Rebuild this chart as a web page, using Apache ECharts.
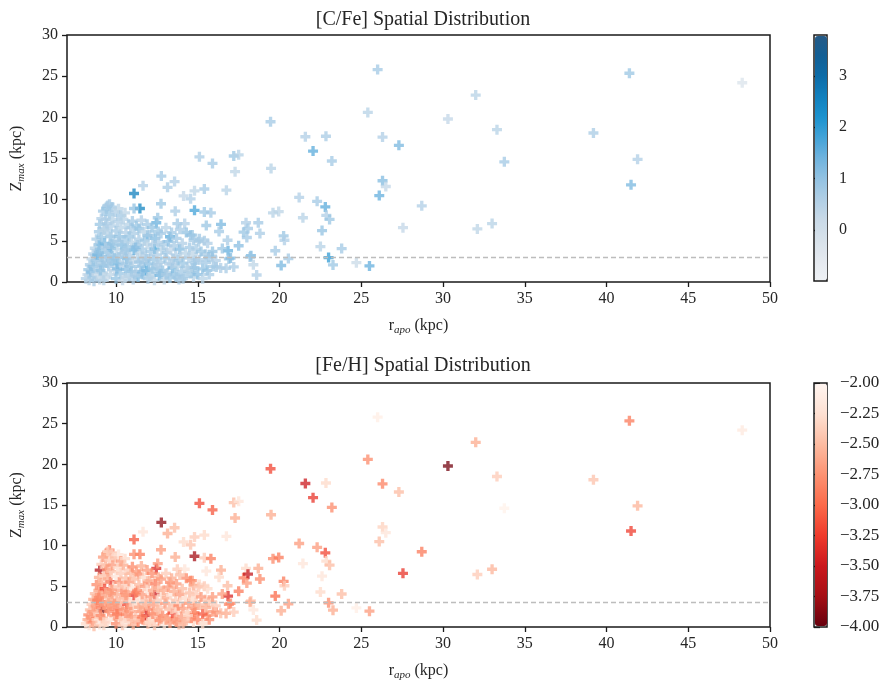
<!DOCTYPE html>
<html><head><meta charset="utf-8">
<script src="https://cdn.jsdelivr.net/npm/echarts@6/dist/echarts.min.js"></script>
<style>html,body{margin:0;padding:0;background:#fff}#c{width:889px;height:685px}</style>
</head><body><div id="c"></div><script>
// apocentric radius r_apo (kpc)
const rApo = [
26.0,25.4,26.3,27.3,26.3,26.5,26.1,28.7,27.55,30.3,
32.0,33.3,33.75,32.1,33.0,39.2,41.4,41.9,41.5,48.3,
24.7,25.5,19.45,21.58,22.84,22.05,23.2,19.48,15.1,15.9,
17.2,17.5,17.28,12.77,11.65,13.15,13.58,11.1,15.4,16.75,
14.8,14.13,14.56,21.2,21.43,22.3,22.8,22.86,23.06,22.6,
22.5,23.8,23.0,23.27,11.46,11.1,12.75,14.8,15.4,15.8,
13.62,11.4,12.46,12.58,11.93,13.3,13.75,14.2,13.9,14.66,
15.1,15.4,15.52,16.42,16.3,16.82,17.95,17.8,18.07,18.7,
18.8,17.5,18.25,18.4,18.6,20.25,20.3,19.74,20.54,20.1,
16.85,16.9,16.73,16.13,15.58,14.68,14.85,15.46,12.36,9.7,
8.96,9.3,9.36,9.46,9.6,9.0,9.16,9.65,19.6,19.95,
18.0,16.5,15.66,15.87,14.8,15.3,15.95,16.4,14.74,17.2,
17.0,18.2,14.55,14.74,15.05,15.6,
8.15,8.25,8.3,8.35,8.4,8.45,8.5,8.55,8.6,8.6,
8.7,8.75,8.8,8.8,8.85,8.9,8.95,9.0,9.0,9.05,
9.1,9.1,9.15,9.2,9.2,9.25,9.3,9.3,9.35,9.4,
9.45,9.45,9.5,9.5,9.55,9.6,9.6,9.65,9.7,9.7,
9.75,9.8,9.8,9.85,9.9,9.95,10.0,10.0,10.05,10.1,
10.1,10.15,10.2,10.2,10.25,10.3,10.3,10.35,10.4,10.4,
10.45,10.5,10.5,10.55,10.6,10.6,10.65,10.7,10.75,10.8,
10.8,10.85,10.9,10.9,10.95,11.0,11.0,11.05,11.1,11.1,
11.2,11.25,11.3,11.3,11.35,11.4,11.45,11.5,11.55,11.6,
11.65,11.7,11.7,11.75,11.8,11.85,11.9,11.9,11.95,12.0,
12.05,12.1,12.15,12.2,12.25,12.3,12.35,12.4,12.45,12.5,
12.55,12.6,12.65,12.7,12.75,12.8,12.85,12.9,12.95,13.0,
13.05,13.1,13.15,13.2,13.25,13.3,13.35,13.4,13.45,13.5,
13.55,13.6,13.65,13.7,13.75,13.8,13.85,13.9,13.95,14.0,
14.05,14.1,14.2,14.25,14.3,14.35,14.45,14.5,14.6,14.7,
14.8,14.9,15.0,15.1,15.2,15.3,15.5,15.7,15.9,16.1,
8.65,9.05,9.25,9.45,9.55,9.9,10.05,10.35,10.55,10.7,
10.95,11.15,11.4,11.6,11.85,12.05,12.25,12.55,12.75,13.05,
13.4,13.7,14.1,14.4,8.95,9.35,9.75,10.15,10.6,11.2
];
// maximum height above the plane Z_max (kpc)
const zMax = [
25.8,20.6,17.6,16.6,12.3,11.6,10.5,9.25,6.6,19.8,
22.7,18.5,14.6,6.45,7.1,18.1,25.35,14.9,11.8,24.2,
2.35,1.95,19.46,17.64,17.7,15.9,14.7,13.8,15.2,14.4,
15.3,15.45,13.4,12.86,11.7,11.5,12.2,10.75,11.3,11.15,
11.07,10.46,10.1,10.27,7.8,9.8,9.12,8.1,7.6,6.25,
4.3,4.06,2.97,2.07,8.93,8.93,9.5,8.7,8.5,8.4,
8.6,6.5,7.2,6.13,5.64,5.5,7.1,7.1,6.4,5.7,
5.24,5.0,6.86,7.0,6.13,5.07,7.2,6.05,6.5,7.2,
5.9,4.4,3.2,2.1,0.85,5.6,5.07,3.8,2.85,2.0,
3.8,2.8,1.67,1.82,1.42,1.67,2.64,3.37,4.0,4.1,
4.5,6.45,7.6,9.2,9.45,7.0,2.0,5.56,8.4,8.55,
5.4,4.06,3.04,3.13,1.75,1.6,1.9,1.7,0.6,1.83,
2.9,3.04,5.7,5.07,4.9,4.7,
0.4,0.9,1.5,0.2,2.1,1.2,2.8,0.6,3.4,1.9,
4.1,2.6,0.9,5.2,3.3,1.6,6.1,4.0,0.3,2.4,
5.4,7.7,3.1,8.6,1.1,6.3,4.7,2.7,0.6,8.9,
7.1,3.6,9.3,5.9,1.9,8.2,4.3,0.9,6.8,2.6,
9.1,7.6,3.2,5.0,1.4,8.5,6.2,0.4,4.0,2.2,
7.3,8.9,5.5,3.0,1.0,6.6,8.1,4.5,2.0,0.2,
7.6,5.1,3.6,8.4,1.5,6.0,2.8,4.3,7.0,0.7,
5.5,3.2,6.6,1.9,4.8,7.4,2.5,0.3,3.9,5.9,
1.2,6.8,4.5,2.9,0.6,5.2,3.5,1.9,7.5,4.0,
0.9,6.1,2.5,5.0,3.2,1.4,7.0,4.6,0.4,2.2,
5.7,3.7,1.0,6.6,4.5,2.7,0.2,5.3,1.7,3.3,
7.8,4.8,0.8,2.4,5.9,3.9,1.4,4.5,0.3,2.9,
6.6,3.6,1.1,4.9,2.2,0.5,3.9,6.0,1.7,2.8,
4.4,0.9,3.3,5.3,1.9,2.6,0.3,4.0,3.0,1.3,
4.7,2.3,0.7,3.5,6.0,1.8,2.9,4.2,1.1,3.4,
2.3,4.0,0.9,2.7,3.7,0.4,2.4,0.9,3.7,2.6,
0.1,1.4,0.2,2.3,3.0,2.9,1.6,3.4,0.5,2.3,
1.3,0.8,2.4,1.3,2.8,0.6,1.6,2.1,1.0,0.9,
2.2,0.6,0.4,1.4,3.6,4.2,4.6,4.9,3.9,4.2
];
// [C/Fe]
const cFe = [
0.8,0.5,0.6,1.3,1.2,0.3,1.5,0.6,0.3,0.3,
0.5,0.5,0.8,0.4,0.5,0.7,0.9,0.6,1.3,-0.3,
0.2,1.5,0.8,0.6,0.7,1.6,0.8,0.5,0.7,0.8,
0.9,0.5,0.4,0.8,0.6,0.7,0.6,2.6,0.8,0.5,
0.4,0.3,0.6,0.6,0.5,0.8,1.6,0.6,0.9,1.0,
0.5,0.8,2.0,0.9,2.5,1.0,0.9,1.8,0.9,0.8,
0.7,1.0,1.5,0.9,1.5,1.6,0.8,0.6,0.7,0.9,
0.8,0.7,0.9,1.3,0.8,0.7,0.6,0.9,0.8,0.8,
0.7,1.1,1.3,0.4,0.6,0.9,0.6,0.8,0.8,1.3,
1.5,0.9,0.7,0.8,1.0,0.9,0.8,0.7,1.8,1.6,
1.5,0.8,0.7,0.9,0.8,0.9,1.2,1.0,0.5,0.4,
0.8,0.9,0.8,0.7,0.9,1.0,0.8,0.6,0.5,0.7,
1.2,0.9,0.9,0.8,0.7,0.6,
0.6,0.3,0.9,0.5,0.7,1.1,0.4,0.8,0.6,1.0,
0.5,0.9,0.3,0.7,1.4,0.6,0.8,1.0,0.4,0.7,
0.9,0.6,1.2,0.8,0.5,0.4,1.3,0.7,0.3,0.9,
0.7,1.0,0.6,0.5,0.8,0.9,1.1,0.4,0.6,1.2,
0.8,0.5,0.9,0.7,0.3,0.6,0.8,1.0,0.5,1.4,
0.6,0.4,1.0,0.7,0.9,0.5,0.8,1.2,0.6,0.3,
0.5,0.8,0.7,0.4,1.1,0.6,1.3,0.9,0.5,0.7,
0.9,0.6,0.7,1.0,0.5,0.8,0.4,0.6,1.5,0.7,
0.6,0.9,0.8,0.5,1.2,0.7,0.4,0.9,0.6,0.8,
1.0,0.5,0.7,0.9,0.6,1.6,0.8,0.4,0.7,1.1,
0.7,0.8,0.5,1.0,0.6,0.9,0.4,1.2,0.8,0.6,
0.9,0.6,1.4,0.7,0.8,0.5,1.0,0.7,0.4,0.9,
0.5,0.8,0.7,1.1,0.6,0.9,0.3,0.8,1.3,0.6,
0.7,1.0,0.6,0.8,0.5,0.9,0.7,1.2,0.4,0.8,
0.6,0.9,0.8,0.5,1.0,0.7,0.6,0.8,0.9,0.4,
0.8,0.7,1.1,0.6,0.9,0.5,0.8,0.7,1.0,0.6,
0.7,1.0,0.5,0.8,0.6,0.9,1.2,0.7,0.4,0.8,
0.9,0.6,0.8,1.1,0.7,0.5,0.9,0.6,1.0,0.7,
0.6,0.8,0.7,0.5,1.0,0.6,0.9,0.7,0.8,1.1
];
// [Fe/H]
const feH = [
-2.1,-2.8,-2.85,-2.5,-2.35,-2.2,-2.5,-2.9,-3.3,-3.95,
-2.6,-2.4,-2.05,-2.4,-2.55,-2.45,-2.9,-2.55,-3.25,-2.15,
-2.1,-2.7,-3.2,-3.5,-2.3,-3.3,-2.8,-2.6,-3.2,-3.1,
-2.5,-2.2,-2.6,-3.85,-2.2,-2.6,-2.5,-3.1,-2.3,-2.2,
-2.4,-2.3,-2.45,-2.7,-2.2,-2.7,-3.2,-2.3,-2.5,-2.2,
-2.3,-2.5,-2.8,-2.6,-2.9,-2.8,-2.7,-3.75,-2.4,-2.9,
-2.6,-2.8,-3.4,-2.6,-2.9,-2.8,-2.4,-2.2,-2.5,-2.7,
-2.3,-2.4,-2.2,-2.6,-2.3,-2.5,-2.3,-2.9,-3.55,-2.6,
-2.8,-2.9,-2.4,-2.2,-2.3,-2.9,-2.4,-3.0,-2.7,-2.6,
-3.4,-2.8,-2.6,-2.9,-2.7,-2.8,-2.6,-2.4,-3.5,-2.9,
-2.7,-2.8,-2.6,-2.7,-3.0,-3.65,-4.0,-3.3,-2.8,-2.9,
-2.7,-2.7,-2.5,-2.3,-2.9,-3.1,-2.7,-2.5,-2.3,-2.4,
-2.8,-2.6,-2.8,-2.6,-2.4,-2.3,
-2.3,-2.6,-2.8,-2.2,-2.5,-2.7,-2.4,-2.85,-2.6,-2.7,
-2.5,-2.7,-2.3,-2.8,-2.9,-2.4,-2.6,-2.7,-2.2,-2.85,
-2.6,-2.4,-2.8,-2.7,-2.5,-2.3,-3.2,-2.7,-2.4,-2.6,
-2.7,-2.5,-2.3,-2.6,-2.8,-2.4,-2.7,-2.2,-2.5,-2.85,
-2.4,-2.7,-2.6,-2.3,-2.7,-2.5,-2.2,-2.8,-2.6,-2.9,
-2.3,-2.2,-2.8,-2.6,-2.5,-2.4,-2.7,-2.85,-2.7,-2.4,
-2.6,-2.4,-2.7,-2.3,-2.8,-2.5,-3.2,-2.7,-2.4,-2.6,
-2.7,-2.3,-2.5,-2.7,-2.2,-2.8,-2.4,-2.6,-3.3,-2.5,
-2.4,-2.7,-2.8,-2.3,-2.85,-2.5,-2.2,-2.7,-2.6,-2.7,
-2.8,-2.3,-2.6,-2.7,-2.4,-3.4,-2.7,-2.2,-2.5,-2.85,
-2.5,-2.7,-2.3,-2.8,-2.6,-2.7,-2.4,-2.9,-2.5,-2.4,
-2.7,-2.5,-2.85,-2.4,-2.7,-2.3,-2.8,-2.6,-2.2,-2.7,
-2.4,-2.6,-2.8,-2.7,-2.5,-2.7,-2.2,-2.6,-3.2,-2.4,
-2.6,-2.8,-2.4,-2.7,-2.3,-2.85,-2.5,-2.7,-2.2,-2.7,
-2.5,-2.7,-2.6,-2.3,-2.8,-2.4,-2.7,-2.5,-2.85,-2.3,
-2.7,-2.4,-2.85,-2.5,-2.7,-2.3,-2.6,-2.8,-2.7,-2.4,
-2.5,-2.8,-2.3,-2.7,-2.6,-2.7,-2.9,-2.4,-2.2,-2.7,
-2.7,-2.4,-2.6,-2.85,-2.5,-2.3,-2.8,-2.5,-2.7,-2.6,
-2.4,-2.7,-2.5,-2.3,-2.8,-2.6,-2.7,-2.4,-2.7,-2.85
];
const xTicks = [10,15,20,25,30,35,40,45,50];
const cfeTicks = [0,1,2,3];
const zCut = 3;

const FONT = '"Liberation Serif","DejaVu Serif",serif';
const TXT = '#262626';
const plus = 'path://M4,0H8V4H12V8H8V12H4V8H0V4H4Z';
const blues = ['#eef1f5','#e4e9ef','#d7e1ea','#c8d9e7','#afcee5','#92c2e2','#6fb3de','#43a3d8','#1c93cf','#1180be','#0d6ca8','#125f95','#255a86'];
const redsR = ['#67000d','#a50f15','#cb181d','#ef3b2c','#fb6a4a','#fc9272','#fcbba1','#fee0d2','#fff5f0'];

const topData = rApo.map((x,i)=>[x, zMax[i], cFe[i]]);
const botData = rApo.map((x,i)=>[x, zMax[i], feH[i]]);

const rich = {
  b:{fontFamily:FONT,fontSize:16,color:TXT,lineHeight:20},
  s:{fontFamily:FONT,fontStyle:'italic',fontSize:11,color:TXT,lineHeight:12,verticalAlign:'bottom'}
};
const gridStyle = {show:true,borderColor:'#1a1a1a',borderWidth:1.5,backgroundColor:'transparent'};
function xAx(gi){
  return {type:'value',gridIndex:gi,min:7,max:50,
    axisLine:{show:false},splitLine:{show:false},
    axisTick:{show:true,customValues:xTicks,length:5,lineStyle:{color:'#1a1a1a',width:1.3}},
    axisLabel:{customValues:xTicks,margin:9,color:TXT,fontFamily:FONT,fontSize:16},
    name:'{b|r}{s|apo}{b| (kpc)}',nameLocation:'middle',nameGap:34,nameTextStyle:{rich:rich}};
}
function yAx(gi){
  return {type:'value',gridIndex:gi,min:0,max:30,interval:5,
    axisLine:{show:false},splitLine:{show:false},
    axisTick:{show:true,length:5,lineStyle:{color:'#1a1a1a',width:1.3}},
    axisLabel:{margin:9,color:TXT,fontFamily:FONT,fontSize:16},
    name:'{b|Z}{s|max}{b| (kpc)}',nameLocation:'middle',nameGap:40,nameRotate:90,nameTextStyle:{rich:rich}};
}
function series(gi,data){
  return {type:'scatter',xAxisIndex:gi,yAxisIndex:gi,data:data,symbol:plus,symbolSize:10,
    itemStyle:{opacity:0.75},
    markLine:{silent:true,symbol:'none',label:{show:false},
      lineStyle:{color:'#bdbdbd',type:[5,3],width:1.3,opacity:1},data:[{yAxis:zCut}]}};
}
const chart = echarts.init(document.getElementById('c'),null,{renderer:'canvas'});
chart.setOption({
  animation:false,
  backgroundColor:'#fff',
  title:[
    {text:'[C/Fe] Spatial Distribution',left:418,top:5,textAlign:'center',textStyle:{fontFamily:FONT,fontSize:20,fontWeight:'normal',color:TXT}},
    {text:'[Fe/H] Spatial Distribution',left:418,top:351,textAlign:'center',textStyle:{fontFamily:FONT,fontSize:20,fontWeight:'normal',color:TXT}}
  ],
  grid:[
    Object.assign({left:67,top:35,width:703,height:247},gridStyle),
    Object.assign({left:67,top:383,width:703,height:244},gridStyle),
    Object.assign({left:814,top:35,width:13,height:246},gridStyle),
    Object.assign({left:814,top:383,width:13,height:244},gridStyle)
  ],
  xAxis:[xAx(0),xAx(1),{type:'value',gridIndex:2,show:false},{type:'value',gridIndex:3,show:false}],
  yAxis:[yAx(0),yAx(1),
    {type:'value',gridIndex:2,position:'right',min:-1,max:3.8,
      axisLine:{show:false},splitLine:{show:false},
      axisTick:{show:true,customValues:cfeTicks,length:6,lineStyle:{color:'#1a1a1a',width:1.3}},
      axisLabel:{customValues:cfeTicks,margin:12,color:TXT,fontFamily:FONT,fontSize:16}},
    {type:'value',gridIndex:3,position:'right',min:-4,max:-2,interval:0.25,
      axisLine:{show:false},splitLine:{show:false},
      axisTick:{show:true,length:6,lineStyle:{color:'#1a1a1a',width:1.3}},
      axisLabel:{margin:13,color:TXT,fontFamily:FONT,fontSize:17,
        formatter:v=>(v<0?'\u2212':'')+Math.abs(v).toFixed(2)}}
  ],
  visualMap:[
    {type:'continuous',seriesIndex:0,dimension:2,min:-1,max:3.8,calculable:false,
      left:815,top:36,itemWidth:12,itemHeight:244,padding:0,text:null,inRange:{color:blues}},
    {type:'continuous',seriesIndex:1,dimension:2,min:-4,max:-2,calculable:false,
      left:815,top:384,itemWidth:12,itemHeight:242,padding:0,text:null,inRange:{color:redsR}}
  ],
  series:[series(0,topData),series(1,botData)]
});
</script></body></html>
